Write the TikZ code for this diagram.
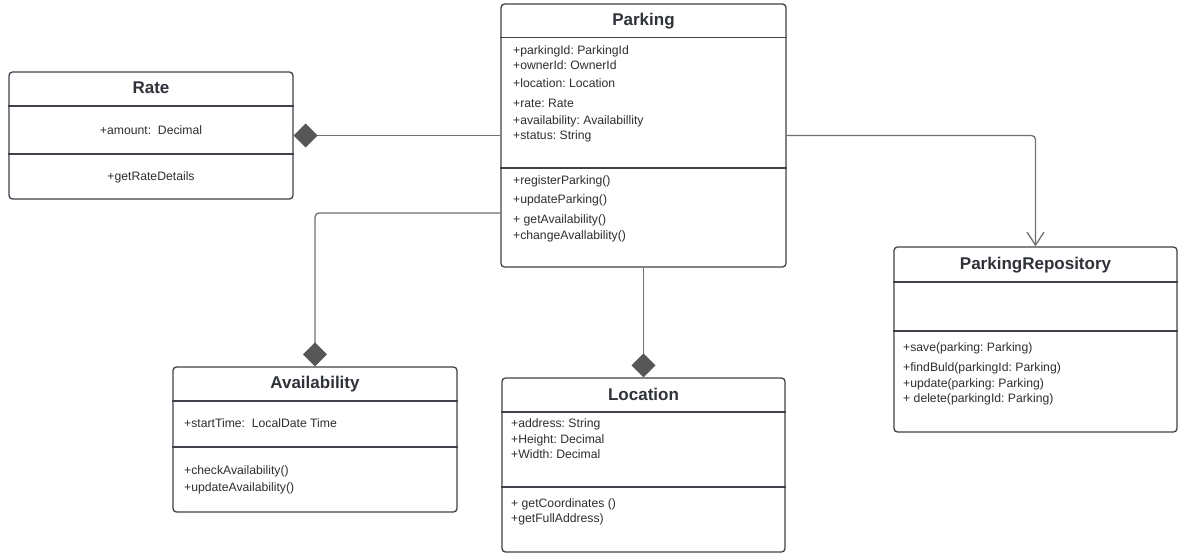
\documentclass[tikz,border=0pt]{standalone}
\usepackage{fontspec}
\setmainfont{Liberation Sans}
\usetikzlibrary{arrows.meta}
\frenchspacing
\definecolor{boxline}{HTML}{3F4249}
\definecolor{conn}{HTML}{707070}
\definecolor{dmd}{HTML}{575757}
\definecolor{txt}{HTML}{2E2E2E}
\definecolor{ttl}{HTML}{2F3238}
\tikzset{
  umlbox/.style={draw=boxline, line width=1.3pt, rounded corners=3.5pt, inner sep=0pt, fill=white},
  sepline/.style={draw=boxline, line width=1.3pt},
  ttext/.style={anchor=base, inner sep=0pt, text=ttl, font=\fontsize{17}{20}\selectfont\bfseries},
  atext/.style={anchor=base west, inner sep=0pt, text=txt, font=\fontsize{12.2}{14}\selectfont},
  ctext/.style={anchor=base, inner sep=0pt, text=txt, font=\fontsize{12.2}{14}\selectfont},
  connector/.style={draw=conn, line width=1.3pt, rounded corners=4pt},
  compo/.style={-{Diamond[length=24pt,width=24pt,fill=dmd,color=dmd]}},
  assoc/.style={-{Straight Barb[length=13pt,width=17pt,color=conn]}}
}
\begin{document}
\begin{tikzpicture}[x=1pt,y=-1pt]
\useasboundingbox (0,0) rectangle (1182,557);

% Boxes
\node[umlbox, minimum width=285pt, minimum height=263pt] (parking) at (643.5,135.5) {};
\node[umlbox, minimum width=284pt, minimum height=127pt] (rate) at (151,135.5) {};
\node[umlbox, minimum width=284pt, minimum height=145pt] (avail) at (315,439.5) {};
\node[umlbox, minimum width=283pt, minimum height=174pt] (loc) at (643.5,465) {};
\node[umlbox, minimum width=283pt, minimum height=185pt] (repo) at (1035.5,339.5) {};

% Separators
\path[sepline] (parking.west |- 0,37.5) -- (parking.east |- 0,37.5);
\path[sepline] (parking.west |- 0,168) -- (parking.east |- 0,168);
\path[sepline] (rate.west |- 0,106) -- (rate.east |- 0,106);
\path[sepline] (rate.west |- 0,154) -- (rate.east |- 0,154);
\path[sepline] (avail.west |- 0,401) -- (avail.east |- 0,401);
\path[sepline] (avail.west |- 0,447) -- (avail.east |- 0,447);
\path[sepline] (loc.west |- 0,412) -- (loc.east |- 0,412);
\path[sepline] (loc.west |- 0,487) -- (loc.east |- 0,487);
\path[sepline] (repo.west |- 0,282) -- (repo.east |- 0,282);
\path[sepline] (repo.west |- 0,331) -- (repo.east |- 0,331);

% Parking
\node[ttext] (pt) at (643.5,25.5) {Parking};
\node[atext] (p1) at (513,54) {+parkingId: ParkingId};
\node[atext] (p2) at (513,69) {+ownerId: OwnerId};
\node[atext] (p3) at (513,87) {+location: Location};
\node[atext] (p4) at (513,107) {+rate: Rate};
\node[atext] (p5) at (513,124) {+availability: Availabillity};
\node[atext] (p6) at (513,139) {+status: String};
\node[atext] (p7) at (513,184) {+registerParking()};
\node[atext] (p8) at (513,203) {+updateParking()};
\node[atext] (p9) at (513,223) {+ getAvailability()};
\node[atext] (p10) at (513,239) {+changeAvallability()};

% Rate
\node[ttext] (rt) at (151,93.5) {Rate};
\node[ctext] (r1) at (151,134) {+amount:\ \ Decimal};
\node[ctext] (r2) at (151,180) {+getRateDetails};

% Availability
\node[ttext] (at) at (315,388.5) {Availability};
\node[atext] (a1) at (184,427) {+startTime:\ \ LocalDate Time};
\node[atext] (a2) at (184,474) {+checkAvailability()};
\node[atext] (a3) at (184,491) {+updateAvailability()};

% Location
\node[ttext] (lt) at (643.5,400) {Location};
\node[atext] (l1) at (511,427) {+address: String};
\node[atext] (l2) at (511,443) {+Height: Decimal};
\node[atext] (l3) at (511,458) {+Width: Decimal};
\node[atext] (l4) at (511,507) {+ getCoordinates ()};
\node[atext] (l5) at (511,522) {+getFullAddress)};

% ParkingRepository
\node[ttext] (rpt) at (1035.5,269) {ParkingRepository};
\node[atext] (q1) at (903,351) {+save(parking: Parking)};
\node[atext] (q2) at (903,371) {+findBuld(parkingId: Parking)};
\node[atext] (q3) at (903,387) {+update(parking: Parking)};
\node[atext] (q4) at (903,402) {+ delete(parkingId: Parking)};

% Connectors
\draw[connector, compo] (parking.west |- 0,135.5) -- (rate.east);
\draw[connector, compo] (parking.west |- 0,213) -| (avail.north);
\draw[connector, compo] (parking.south) -- (loc.north);
\draw[connector, assoc] (parking.east |- 0,135.5) -| (repo.north);
\end{tikzpicture}
\end{document}
